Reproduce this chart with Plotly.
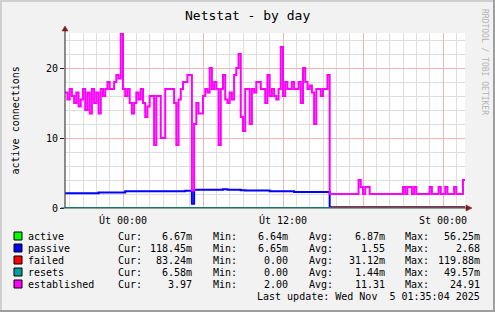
import pandas as pd
import plotly.graph_objects as go

# ---------------- data ----------------
times = pd.date_range('2025-11-03 19:40', periods=181, freq='10min')
hours = pd.date_range('2025-11-03 19:40', periods=31, freq='60min')

established = [
    16.5, 15.5, 17, 16, 15, 16.5, 14.5, 15.5, 17, 14,
    16.5, 13.5, 17, 15, 16.5, 13.5, 17, 16, 17, 18,
    17, 17, 18, 19, 18.5, 25, 17, 16, 17, 15,
    13.5, 15, 16.5, 15.5, 17, 15, 13, 14.5, 16, 16,
    9, 16, 16, 10, 10, 17, 17, 17, 17, 15,
    9, 15.5, 17, 18, 18, 19, 19, 2.5, 12, 15,
    13.5, 13.5, 16, 17, 16.5, 20, 17, 18, 17, 9,
    17, 19, 15.5, 15, 16.5, 15.5, 19, 20, 22, 13,
    11, 17, 17, 12, 17, 16.5, 18, 18, 17, 17,
    15, 19, 16, 17, 16, 15.5, 17, 23, 16, 18,
    17, 17, 18, 17, 17, 18, 15, 20, 18, 17,
    17.5, 16.5, 12, 17, 17, 16, 17, 17, 19, 2,
    2, 2, 2, 2, 2, 2, 2, 2, 2, 2,
    2, 2, 4, 3, 2, 3, 3, 2, 2, 2,
    2, 2, 2, 2, 2, 2, 2, 2, 2, 2,
    2, 2, 3, 2, 3, 3, 2, 3, 2, 2,
    2, 2, 2, 2, 3, 2, 2, 2, 3, 2,
    2, 3, 2, 2, 2, 3, 2, 2, 2, 4, 4,
]

passive = [
    2.1, 2.1, 2.1, 2.1, 2.1, 2.1, 2.1, 2.1, 2.1, 2.1,
    2.1, 2.1, 2.1, 2.1, 2.1, 2.2, 2.2, 2.2, 2.2, 2.2,
    2.2, 2.2, 2.2, 2.2, 2.2, 2.2, 2.2, 2.4, 2.4, 2.4,
    2.4, 2.4, 2.4, 2.4, 2.4, 2.4, 2.4, 2.4, 2.4, 2.4,
    2.4, 2.4, 2.4, 2.4, 2.4, 2.4, 2.4, 2.4, 2.4, 2.4,
    2.4, 2.4, 2.4, 2.4, 2.45, 2.45, 2.45, 0.6, 2.6, 2.6,
    2.6, 2.6, 2.6, 2.6, 2.6, 2.6, 2.6, 2.6, 2.6, 2.6,
    2.6, 2.68, 2.68, 2.6, 2.6, 2.6, 2.6, 2.6, 2.6, 2.55,
    2.55, 2.5, 2.5, 2.5, 2.5, 2.5, 2.5, 2.5, 2.5, 2.5,
    2.5, 2.5, 2.4, 2.4, 2.4, 2.4, 2.4, 2.4, 2.4, 2.4,
    2.4, 2.4, 2.4, 2.3, 2.3, 2.3, 2.3, 2.3, 2.3, 2.3,
    2.3, 2.3, 2.3, 2.3, 2.3, 2.3, 2.3, 2.3, 2.3, 0.12,
    0.12, 0.12, 0.12, 0.12, 0.12, 0.12, 0.12, 0.12, 0.12, 0.12,
    0.12, 0.12, 0.12, 0.12, 0.12, 0.12, 0.12, 0.12, 0.12, 0.12,
    0.12, 0.12, 0.12, 0.12, 0.12, 0.12, 0.12, 0.12, 0.12, 0.12,
    0.12, 0.12, 0.12, 0.12, 0.12, 0.12, 0.12, 0.12, 0.12, 0.12,
    0.12, 0.12, 0.12, 0.12, 0.12, 0.12, 0.12, 0.12, 0.12, 0.12,
    0.12, 0.12, 0.12, 0.12, 0.12, 0.12, 0.12, 0.12, 0.12, 0.12, 0.12,
]

active_h = [0.007, 0.0066, 0.0068, 0.0067, 0.0066, 0.0069, 0.0067, 0.0066, 0.0068, 0.0067,
            0.0066, 0.012, 0.0067, 0.0068, 0.0066, 0.0067, 0.0069, 0.0066, 0.0067, 0.0068,
            0.0067, 0.0066, 0.0067, 0.0068, 0.0066, 0.0067, 0.0066, 0.0067, 0.0068, 0.0066, 0.0067]
failed_h = [0.004, 0.003, 0.005, 0.004, 0.0, 0.003, 0.004, 0.005, 0.003, 0.004,
            0.0, 0.004, 0.003, 0.005, 0.004, 0.003, 0.004, 0.003, 0.005, 0.004,
            0.12, 0.11, 0.12, 0.1, 0.11, 0.12, 0.11, 0.1, 0.1, 0.11, 0.083]
resets_h = [0.0, 0.0, 0.002, 0.0, 0.0, 0.0, 0.0, 0.01, 0.0, 0.0,
            0.0, 0.0, 0.0, 0.001, 0.0, 0.0, 0.0, 0.0, 0.0, 0.0,
            0.0, 0.0, 0.0, 0.0, 0.0, 0.0, 0.0, 0.0, 0.0, 0.0, 0.0066]

names = ['active', 'passive', 'failed', 'resets', 'established']
colors = ['#00ff00', '#0000ff', '#ff0000', '#00a0a0', '#ff00ff']
line_widths = [2, 2, 2, 2, 2]
cur_vals = ['6.67m', '118.45m', '83.24m', '6.58m', '3.97']
min_vals = ['6.64m', '6.65m', '0.00', '0.00', '2.00']
avg_vals = ['6.87m', '1.55', '31.12m', '1.44m', '11.31']
max_vals = ['56.25m', '2.68', '119.88m', '49.57m', '24.91']

x_tickvals = ['2025-11-04 00:00', '2025-11-04 06:00', '2025-11-04 12:00',
              '2025-11-04 18:00', '2025-11-05 00:00']
x_ticktext = ['Út 00:00', '', 'Út 12:00', '', 'St 00:00']
y_tickvals = [0, 10, 20]
y_ticktext = ['0', '10', '20']

title_text = 'Netstat - by day'
ylabel_text = 'active connections'
watermark = 'RRDTOOL / TOBI OETIKER'
last_update = 'Last update: Wed Nov  5 01:35:04 2025'

# ---------------- layout geometry ----------------
W, H = 495, 312
L, R, T, B = 65, 465, 33, 208
FONT = 'DejaVu Sans Mono'


def px(x):
    return (x - L) / (R - L)


def py(y):
    return (B - y) / (B - T)


fig = go.Figure()
series = [(hours, active_h), (times, passive), (hours, failed_h), (hours, resets_h), (times, established)]
for (xs, ys), name, col, lw in zip(series, names, colors, line_widths):
    fig.add_trace(go.Scatter(x=xs, y=ys, name=name, mode='lines',
                             line=dict(color=col, width=lw, shape='hv'),
                             showlegend=False, hoverinfo='skip'))

shapes = []
annotations = []

# frame
shapes.append(dict(type='line', xref='paper', yref='paper', x0=px(0), x1=px(W), y0=py(1), y1=py(1),
                   line=dict(color='#cfcfcf', width=2), layer='above'))
shapes.append(dict(type='line', xref='paper', yref='paper', x0=px(1), x1=px(1), y0=py(0), y1=py(H),
                   line=dict(color='#cfcfcf', width=2), layer='above'))
shapes.append(dict(type='line', xref='paper', yref='paper', x0=px(0), x1=px(W), y0=py(H - 1), y1=py(H - 1),
                   line=dict(color='#9e9e9e', width=2), layer='above'))
shapes.append(dict(type='line', xref='paper', yref='paper', x0=px(W - 1), x1=px(W - 1), y0=py(0), y1=py(H),
                   line=dict(color='#9e9e9e', width=2), layer='above'))

# axis extensions and arrows
shapes.append(dict(type='line', xref='paper', yref='paper', x0=px(L), x1=px(L), y0=py(B), y1=py(29),
                   line=dict(color='#1f1f1f', width=1), layer='above'))
shapes.append(dict(type='line', xref='paper', yref='paper', x0=px(61), x1=px(468), y0=py(B), y1=py(B),
                   line=dict(color='#2c4d43', width=1), layer='above'))
shapes.append(dict(type='path', xref='paper', yref='paper',
                   path=f'M {px(62)} {py(31)} L {px(68)} {py(31)} L {px(65)} {py(26)} Z',
                   fillcolor='#7f1f1f', line=dict(color='#7f1f1f', width=0.5), layer='above'))
shapes.append(dict(type='path', xref='paper', yref='paper',
                   path=f'M {px(466)} {py(205)} L {px(466)} {py(211)} L {px(472)} {py(208)} Z',
                   fillcolor='#7f1f1f', line=dict(color='#7f1f1f', width=0.5), layer='above'))

# title, y-label, watermark
annotations.append(dict(text=title_text, xref='paper', yref='paper', x=px(247), y=py(16),
                        showarrow=False, xanchor='center', yanchor='middle',
                        font=dict(family=FONT, size=13, color='#000000')))
annotations.append(dict(text=ylabel_text, xref='paper', yref='paper', x=px(15), y=py(120.5),
                        showarrow=False, xanchor='center', yanchor='middle', textangle=-90,
                        font=dict(family=FONT, size=10, color='#000000')))
annotations.append(dict(text=watermark, xref='paper', yref='paper', x=px(485), y=py(62),
                        showarrow=False, xanchor='center', yanchor='middle', textangle=90,
                        font=dict(family=FONT, size=8, color='#b4b4b4')))

# legend block
for k, name in enumerate(names):
    yc = 236 + 12 * k
    shapes.append(dict(type='rect', xref='paper', yref='paper', x0=px(14), x1=px(22),
                       y0=py(yc + 4), y1=py(yc - 4), fillcolor=colors[k],
                       line=dict(color='#000000', width=1), layer='above'))
    row = [(name, 26.5, 'left'), ('Cur:', 116.5, 'left'), (cur_vals[k], 193, 'right'),
           ('Min:', 211.5, 'left'), (min_vals[k], 289, 'right'),
           ('Avg:', 307.5, 'left'), (avg_vals[k], 385.5, 'right'),
           ('Max:', 403.5, 'left'), (max_vals[k], 481, 'right')]
    for txt, xx, anc in row:
        annotations.append(dict(text=txt, xref='paper', yref='paper', x=px(xx), y=py(yc),
                                showarrow=False, xanchor=anc, yanchor='middle', borderpad=0,
                                font=dict(family=FONT, size=10, color='#000000')))
annotations.append(dict(text=last_update, xref='paper', yref='paper', x=px(481), y=py(296),
                        showarrow=False, xanchor='right', yanchor='middle', borderpad=0,
                        font=dict(family=FONT, size=10, color='#000000')))

fig.update_layout(
    width=W, height=H,
    margin=dict(l=L, r=W - R, t=T, b=H - B, pad=0),
    paper_bgcolor='#f2f2f2', plot_bgcolor='#ffffff',
    font=dict(family=FONT, size=10, color='#000000'),
    shapes=shapes, annotations=annotations,
    xaxis=dict(
        type='date', range=['2025-11-03 19:39', '2025-11-05 01:39'],
        tickmode='array', tickvals=x_tickvals, ticktext=x_ticktext,
        showgrid=True, gridcolor='#f2b4b4', gridwidth=1,
        ticks='outside', ticklen=3, tickcolor='rgba(0,0,0,0)',
        tickfont=dict(family=FONT, size=10, color='#000000'),
        showline=False, zeroline=False,
        minor=dict(dtick=3600000, tick0='2025-11-04 00:00', showgrid=True,
                   gridcolor='#dedede', gridwidth=1, ticks=''),
        fixedrange=True,
    ),
    yaxis=dict(
        range=[0, 25], tickmode='array', tickvals=y_tickvals, ticktext=y_ticktext,
        showgrid=True, gridcolor='#f2b4b4', gridwidth=1,
        ticks='outside', ticklen=4, tickcolor='#1f1f1f',
        tickfont=dict(family=FONT, size=10, color='#000000'),
        showline=False, zeroline=False,
        minor=dict(dtick=2, showgrid=True, gridcolor='#dedede', gridwidth=1, ticks=''),
        fixedrange=True,
    ),
)

fig.write_html('out.html', config={'displayModeBar': False})
